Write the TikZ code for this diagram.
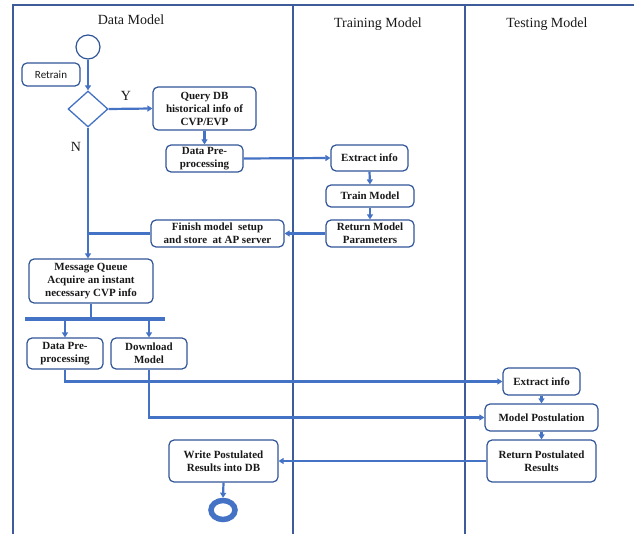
\documentclass[tikz,border=0pt]{standalone}
\usepackage{fontspec}
\setmainfont{Liberation Serif}
\newfontfamily\carlito{Carlito}
\usetikzlibrary{arrows.meta,shapes.geometric}
\definecolor{lanec}{HTML}{3E5C9A}
\definecolor{boxc}{HTML}{2F5597}
\definecolor{arrc}{HTML}{4472C4}
\begin{document}
\begin{tikzpicture}[x=1pt,y=-1pt,
  box/.style={draw=boxc,line width=1.2pt,rounded corners=5pt,align=center,
    inner sep=1pt,font=\bfseries\fontsize{11}{13}\selectfont,text=black!90},
  lane/.style={draw=lanec,line width=1.1pt},
  arr/.style={draw=arrc,line width=2.2pt,-{Triangle[length=5pt,width=6pt]}},
  ln/.style={draw=arrc,line width=2.2pt},
  head/.style={font=\fontsize{14}{16}\selectfont,text=black!90}]
\useasboundingbox (0,0) rectangle (634,534);
% lanes
\draw[lane] (13,534) -- (13,5) -- (634,5);
\draw[lane] (293,5) -- (293,534);
\draw[lane] (465,5) -- (465,534);
\node[head] (h1) at (131,20) {Data Model};
\node[head] (h2) at (378,24) {Training Model};
\node[head] (h3) at (547,24) {Testing Model};
% start
\node[draw=boxc,line width=1.2pt,circle,minimum size=24pt,inner sep=0pt] (start) at (88,47) {};
\node[box,font=\carlito\fontsize{11}{13}\selectfont,minimum width=58pt,minimum height=23pt] (retrain) at (51,74.5) {Retrain};
\node[draw=arrc,line width=1.3pt,diamond,minimum width=40pt,minimum height=36pt,inner sep=0pt] (dia) at (88,109) {};
\node[box,minimum width=103pt,minimum height=43pt] (query) at (204.5,108.5) {Query DB\\historical info of\\CVP/EVP};
\node[box,minimum width=77pt,minimum height=27pt] (pre1) at (204.5,158.5) {Data Pre-\\processing};
\node[box,minimum width=77pt,minimum height=26pt] (ext1) at (369.5,158) {Extract info};
\node[box,minimum width=88pt,minimum height=22pt] (train) at (370,196) {Train Model};
\node[box,minimum width=88pt,minimum height=27pt] (ret1) at (370,233.5) {Return Model\\Parameters};
\node[box,minimum width=133pt,minimum height=27pt] (finish) at (217.5,233.5) {Finish model\ \ setup\\and store\ \ at AP server};
\node[box,minimum width=124pt,minimum height=44pt] (mq) at (91,281) {Message Queue\\Acquire an instant\\necessary CVP info};
\node[fill=arrc,minimum width=140pt,minimum height=4.5pt,inner sep=0pt] (bar) at (95,319) {};
\node[box,minimum width=76pt,minimum height=31pt] (pre2) at (65,353.5) {Data Pre-\\processing};
\node[box,minimum width=76pt,minimum height=31pt] (dl) at (149,353.5) {Download\\Model};
\node[box,minimum width=77pt,minimum height=27pt] (ext2) at (541.5,381.5) {Extract info};
\node[box,minimum width=113pt,minimum height=27pt] (post) at (541.5,417.5) {Model Postulation};
\node[box,minimum width=109pt,minimum height=42pt] (ret2) at (541.5,461) {Return Postulated\\Results};
\node[box,minimum width=109pt,minimum height=42pt] (write) at (223.5,461) {Write Postulated\\Results into DB};
\node[draw=arrc,line width=5.5pt,ellipse,minimum width=24pt,minimum height=19pt,inner sep=0pt] (endn) at (223,510) {};
% labels
\node[head] (ly) at (126,96) {Y};
\node[head] (lnn) at (76,147) {N};
% connectors
\draw[arr] (start) -- (dia.north);
\draw[arr] (dia.east) -- (query.west);
\draw[arr] (query.south) -- (pre1.north);
\draw[arr] (pre1.east) -- (ext1.west);
\draw[arr] (ext1.south) -- (train.north);
\draw[arr] (train.south) -- (ret1.north);
\draw[arr] (ret1.west) -- (finish.east);
\draw[ln] (finish.west) -- (finish.west -| dia.south);
\draw[arr] (dia.south) -- (dia.south |- mq.north);
\draw[ln] (mq.south) -- (mq.south |- bar.north);
\draw[arr] (pre2.north |- bar.south) -- (pre2.north);
\draw[arr] (dl.north |- bar.south) -- (dl.north);
\draw[arr] (pre2.south) |- (ext2.west);
\draw[arr] (dl.south) |- (post.west);
\draw[arr] (ext2.south) -- (post.north);
\draw[arr] (post.south) -- (ret2.north);
\draw[arr] (ret2.west) -- (write.east);
\draw[arr] (write.south) -- (endn.north);
\end{tikzpicture}
\end{document}
